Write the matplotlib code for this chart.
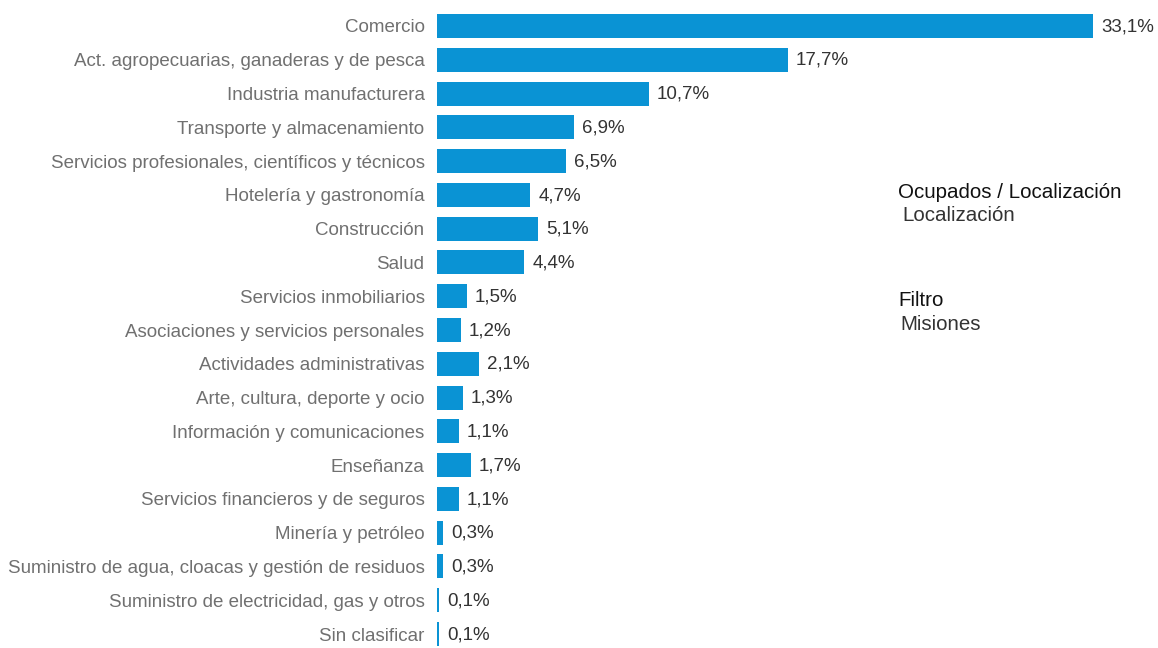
import matplotlib.pyplot as plt

plt.rcParams["font.family"] = ["Liberation Sans", "DejaVu Sans"]

CATEGORIES = [
    "Comercio",
    "Act. agropecuarias, ganaderas y de pesca",
    "Industria manufacturera",
    "Transporte y almacenamiento",
    "Servicios profesionales, científicos y técnicos",
    "Hotelería y gastronomía",
    "Construcción",
    "Salud",
    "Servicios inmobiliarios",
    "Asociaciones y servicios personales",
    "Actividades administrativas",
    "Arte, cultura, deporte y ocio",
    "Información y comunicaciones",
    "Enseñanza",
    "Servicios financieros y de seguros",
    "Minería y petróleo",
    "Suministro de agua, cloacas y gestión de residuos",
    "Suministro de electricidad, gas y otros",
    "Sin clasificar",
]
SHARES = [33.1, 17.7, 10.7, 6.9, 6.5, 4.7, 5.1, 4.4, 1.5, 1.2, 2.1, 1.3, 1.1, 1.7, 1.1, 0.3, 0.3, 0.1, 0.1]

BAR_COLOR = "#0A93D4"
W, H = 1158, 648

fig = plt.figure(figsize=(W / 100, H / 100), dpi=100)
left_px, right_px = 437, 1150
ax = fig.add_axes([left_px / W, 0, (right_px - left_px) / W, 1])

px_per_unit = 656 / 33.1
row_step = 33.78
first_row = 26

y = list(range(len(CATEGORIES)))
ax.barh(y, SHARES, height=0.71, color=BAR_COLOR)
ax.set_xlim(0, (right_px - left_px) / px_per_unit)
ax.set_ylim((H - first_row) / row_step, -first_row / row_step)

for yi, v in zip(y, SHARES):
    ax.text(v + 8 / px_per_unit, yi + 0.02, f"{v:.1f}%".replace(".", ","),
            va="center", ha="left", fontsize=13.5, color="#333333")

ax.set_yticks(y)
ax.set_yticklabels(CATEGORIES, fontsize=13.5, color="#707070")
ax.tick_params(axis="y", length=0, pad=9)
ax.set_xticks([])
for s in ax.spines.values():
    s.set_visible(False)

fig.text(898 / W, 1 - 193 / H, "Ocupados / Localización", fontsize=14.8, color="#111111", va="center")
fig.text(902 / W, 1 - 216 / H, "Localización", fontsize=14.8, color="#333333", va="center")
fig.text(898 / W, 1 - 300 / H, "Filtro", fontsize=14.8, color="#111111", va="center")
fig.text(900 / W, 1 - 324 / H, "Misiones", fontsize=14.8, color="#333333", va="center")

fig.savefig("out.png", dpi=100)
